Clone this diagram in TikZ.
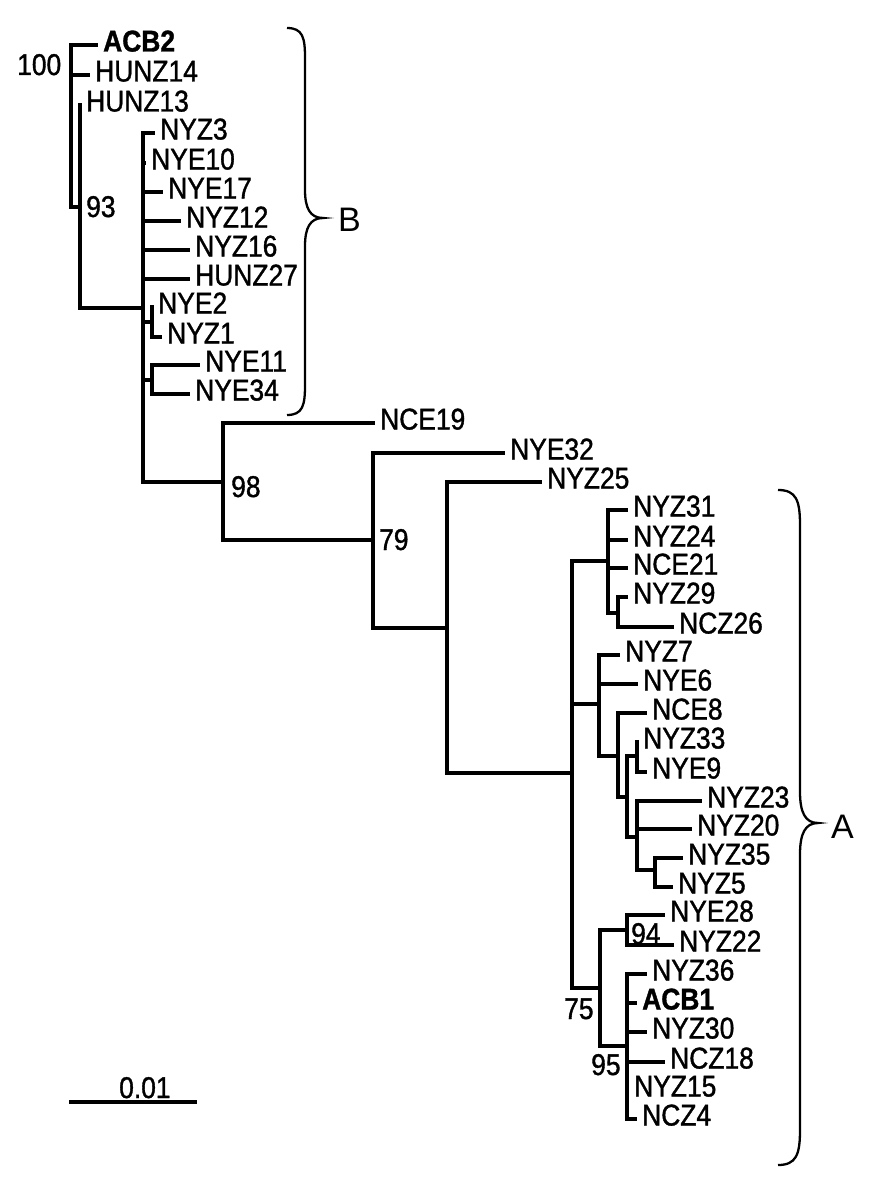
\documentclass[tikz,border=0pt]{standalone}
\usepackage{fontspec}
\setmainfont{Liberation Sans}
\newfontfamily\narrowfont[FakeStretch=0.88,FakeBold=1.2]{Liberation Sans}
\newcommand{\inode}[5]{%
  \coordinate (#1) at (#2,#5);
  \coordinate (#1top) at (#2,#3);
  \coordinate (#1bot) at (#2,#4);
  \draw[vbr] (#1top) -- (#1bot);}
\newcommand{\link}[2]{\draw[br] (#1 |- #2) -- (#2);}
\newcommand{\leaf}[5]{%
  \coordinate (#1tip) at (#4,#3);
  \draw[br] (#2 |- #1tip) -- (#1tip);
  \node[lab] (#1) at ([xshift=5pt,yshift=-6.5pt]#1tip) {#5};}
\begin{document}
\begin{tikzpicture}[x=1pt,y=-1pt,
  br/.style={line width=3.2pt},
  vbr/.style={line width=3.2pt, line cap=rect},
  brc/.style={line width=2.3pt},
  lab/.style={font=\narrowfont\fontsize{30}{36}\selectfont, anchor=base west, inner sep=0pt},
  boot/.style={lab},
  grp/.style={font=\fontsize{34}{40}\selectfont, anchor=west, inner sep=0pt}]
\useasboundingbox (0,0) rectangle (880,1204);
% internal nodes: name, x, top, bottom, attach y
\inode{v1}{71}{45}{207}{207}
\inode{v2}{80}{105}{308}{207}
\inode{v3}{143}{133}{482}{308}
\inode{v4}{152}{307}{337}{322}
\inode{v5}{152}{365}{394}{380}
\inode{v6}{223}{423}{540}{482}
\inode{v7}{373}{453}{628}{540}
\inode{v8}{447}{482}{773}{628}
\inode{v9}{572}{561}{988}{773}
\inode{v10}{608}{510}{613}{561}
\inode{v11}{618}{597}{627}{613}
\inode{v12}{599}{655}{756}{704}
\inode{v13}{618}{713}{797}{756}
\inode{v14}{627}{756}{837}{797}
\inode{v15}{637}{742}{772}{756}
\inode{v16}{637}{801}{870}{837}
\inode{v17}{655}{858}{887}{870}
\inode{v18}{600}{930}{1046}{988}
\inode{v19}{627}{915}{945}{930}
\inode{v20}{627}{974}{1119}{1046}
% links between internal nodes
\link{v1}{v2}
\link{v2}{v3}
\link{v3}{v4}
\link{v3}{v5}
\link{v3}{v6}
\link{v6}{v7}
\link{v7}{v8}
\link{v8}{v9}
\link{v9}{v10}
\link{v10}{v11}
\link{v9}{v12}
\link{v12}{v13}
\link{v13}{v14}
\link{v14}{v15}
\link{v14}{v16}
\link{v16}{v17}
\link{v9}{v18}
\link{v18}{v19}
\link{v18}{v20}
% leaves: name, parent, y, tip x, text
\leaf{ACB2}{v1}{45}{98}{\bfseries ACB2}
\leaf{HUNZ14}{v1}{75}{90}{HUNZ14}
\leaf{HUNZ13}{v2}{105}{81}{HUNZ13}
\leaf{NYZ3}{v3}{133}{155}{NYZ3}
\leaf{NYE10}{v3}{163}{146}{NYE10}
\leaf{NYE17}{v3}{192}{163}{NYE17}
\leaf{NYZ12}{v3}{221}{181}{NYZ12}
\leaf{NYZ16}{v3}{250}{190}{NYZ16}
\leaf{HUNZ27}{v3}{279}{190}{HUNZ27}
\leaf{NYE2}{v4}{307}{153}{NYE2}
\leaf{NYZ1}{v4}{337}{162}{NYZ1}
\leaf{NYE11}{v5}{365}{200}{NYE11}
\leaf{NYE34}{v5}{394}{190}{NYE34}
\leaf{NCE19}{v6}{423}{375}{NCE19}
\leaf{NYE32}{v7}{453}{505}{NYE32}
\leaf{NYZ25}{v8}{482}{542}{NYZ25}
\leaf{NYZ31}{v10}{510}{628}{NYZ31}
\leaf{NYZ24}{v10}{540}{628}{NYZ24}
\leaf{NCE21}{v10}{568}{628}{NCE21}
\leaf{NYZ29}{v11}{597}{628}{NYZ29}
\leaf{NCZ26}{v11}{627}{674}{NCZ26}
\leaf{NYZ7}{v12}{655}{620}{NYZ7}
\leaf{NYE6}{v12}{684}{638}{NYE6}
\leaf{NCE8}{v13}{713}{647}{NCE8}
\leaf{NYZ33}{v15}{742}{638}{NYZ33}
\leaf{NYE9}{v15}{772}{647}{NYE9}
\leaf{NYZ23}{v16}{801}{702}{NYZ23}
\leaf{NYZ20}{v16}{829}{692}{NYZ20}
\leaf{NYZ35}{v17}{858}{683}{NYZ35}
\leaf{NYZ5}{v17}{887}{673}{NYZ5}
\leaf{NYE28}{v19}{915}{665}{NYE28}
\leaf{NYZ22}{v19}{945}{674}{NYZ22}
\leaf{NYZ36}{v20}{974}{647}{NYZ36}
\leaf{ACB1}{v20}{1003}{637}{\bfseries ACB1}
\leaf{NYZ30}{v20}{1032}{647}{NYZ30}
\leaf{NCZ18}{v20}{1062}{665}{NCZ18}
\leaf{NYZ15}{v20}{1090}{629}{NYZ15}
\leaf{NCZ4}{v20}{1119}{637}{NCZ4}
% bootstrap values
\node[boot] (b100) at (17,75) {100};
\node[boot] (b93) at (86,217) {93};
\node[boot] (b98) at (231,497) {98};
\node[boot] (b79) at (379,550) {79};
\node[boot] (b94) at (631,944) {94};
\node[boot] (b75) at (564,1019) {75};
\node[boot] (b95) at (591,1075) {95};
% braces and group labels
\draw[brc] (287,28) .. controls (303,28) and (305,38) .. (305,58) -- (305,190)
  .. controls (305,208) and (310,218) .. (323,218)
  .. controls (310,218) and (305,228) .. (305,246) -- (305,385)
  .. controls (305,405) and (303,415) .. (287,415);
\node[grp] (gB) at (338,220) {B};
\draw[brc] (778,490) .. controls (796,490) and (800,500) .. (800,525) -- (800,792)
  .. controls (800,812) and (805,823) .. (818,823)
  .. controls (805,823) and (800,834) .. (800,854) -- (800,1130)
  .. controls (800,1155) and (796,1165) .. (778,1165);
\node[grp] (gA) at (831,827) {A};
% scale bar
\coordinate (sb1) at (69,1102);
\coordinate (sb2) at (197,1102);
\draw[br] (sb1) -- (sb2);
\node[boot] (sbl) at (119,1098) {0.01};
\end{tikzpicture}
\end{document}
